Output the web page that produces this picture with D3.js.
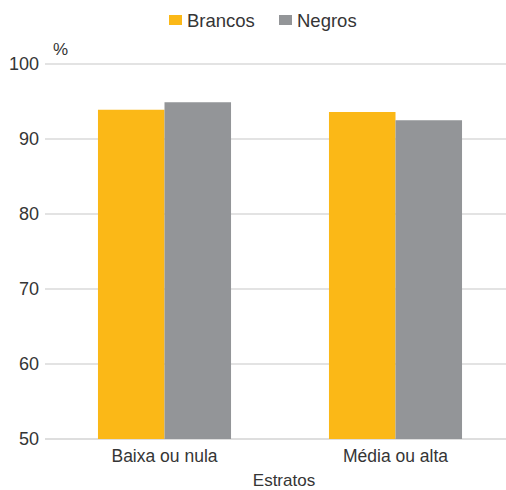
<!DOCTYPE html>
<html>
<head>
<meta charset="utf-8">
<script src="https://cdn.jsdelivr.net/npm/d3@7"></script>
<style>
  body { margin: 0; background: #fff; }
  text { font-family: "Liberation Sans", Arial, sans-serif; fill: #353535; }
</style>
</head>
<body>
<svg id="chart" width="506" height="490"></svg>
<script>
const categories = ["Baixa ou nula", "Média ou alta"];
const seriesNames = ["Brancos", "Negros"];
const brancos = [93.9, 93.6];
const negros = [94.9, 92.5];
const yTicks = [50, 60, 70, 80, 90, 100];
const colors = ["#FBB817", "#939598"];

const svg = d3.select("#chart");
const plotLeft = 45, plotRight = 506, plotTop = 64, plotBottom = 439;

const x = d3.scaleBand().domain(categories).range([49, 511])
  .paddingInner(0.424).paddingOuter(0.212);
const xs = d3.scaleBand().domain(seriesNames).range([0, x.bandwidth()]);
const y = d3.scaleLinear().domain([50, 100]).range([plotBottom, plotTop]);

// horizontal gridlines
svg.append("g").selectAll("line").data(yTicks).join("line")
  .attr("x1", plotLeft).attr("x2", plotRight)
  .attr("y1", d => y(d)).attr("y2", d => y(d))
  .attr("stroke", d => d === 50 ? "#bdbdbd" : "#c8c8c8")
  .attr("stroke-width", 1.2);

// y tick labels
svg.append("g").selectAll("text").data(yTicks).join("text")
  .attr("x", 39).attr("y", d => y(d)).attr("dy", "0.36em")
  .attr("text-anchor", "end").attr("font-size", 18)
  .text(d => d);

svg.append("text").attr("x", 53).attr("y", 55).attr("font-size", 17).text("%");

// bars
const rows = categories.map((c, i) => ({ cat: c, vals: [brancos[i], negros[i]] }));
const groups = svg.append("g").selectAll("g").data(rows).join("g")
  .attr("transform", d => `translate(${x(d.cat)},0)`);
groups.selectAll("rect").data(d => d.vals.map((v, j) => ({ name: seriesNames[j], v, j })))
  .join("rect")
  .attr("x", d => xs(d.name)).attr("width", xs.bandwidth())
  .attr("y", d => y(d.v)).attr("height", d => y(50) - y(d.v))
  .attr("fill", d => colors[d.j]);

// category labels
svg.append("g").selectAll("text").data(categories).join("text")
  .attr("x", d => x(d) + x.bandwidth() / 2).attr("y", 462)
  .attr("text-anchor", "middle").attr("font-size", 17.5)
  .text(d => d);

svg.append("text").attr("x", 284).attr("y", 486)
  .attr("text-anchor", "middle").attr("font-size", 17).text("Estratos");

// legend
const legendX = [169, 279];
const lg = svg.append("g").selectAll("g").data(seriesNames).join("g")
  .attr("transform", (d, i) => `translate(${legendX[i]},0)`);
lg.append("rect").attr("x", 0).attr("y", 15).attr("width", 13).attr("height", 10)
  .attr("fill", (d, i) => colors[i]);
lg.append("text").attr("x", 18).attr("y", 27).attr("font-size", 18.5).text(d => d);
</script>
</body>
</html>
